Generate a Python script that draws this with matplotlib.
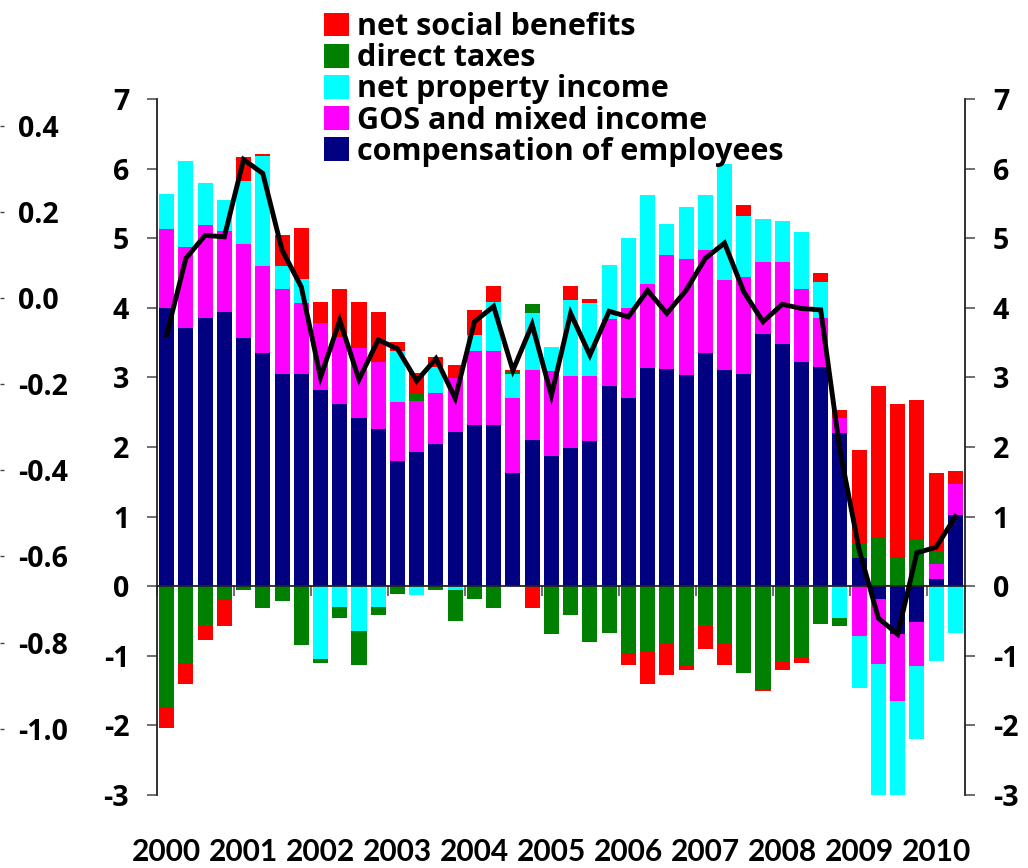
import matplotlib

matplotlib.use("Agg")
import matplotlib.pyplot as plt
import matplotlib.transforms as mtransforms
from matplotlib.patches import Patch
import numpy as np

plt.rcParams["font.family"] = ["Open Sans", "Lato", "DejaVu Sans"]
plt.rcParams["font.weight"] = "bold"
plt.rcParams["font.size"] = 20.5
plt.rcParams["axes.unicode_minus"] = False

# --- Data: quarterly contributions, 2000Q1 - 2010Q2 ---
years = ["2000", "2001", "2002", "2003", "2004", "2005",
         "2006", "2007", "2008", "2009", "2010"]

compensation = [3.99, 3.71, 3.86, 3.94, 3.56, 3.35, 3.05, 3.05, 2.82, 2.62, 2.41, 2.26,
                1.80, 1.93, 2.05, 2.21, 2.31, 2.31, 1.62, 2.10, 1.87, 1.98, 2.08, 2.87,
                2.71, 3.13, 3.12, 3.03, 3.35, 3.10, 3.05, 3.63, 3.48, 3.22, 3.15, 2.20,
                0.40, -0.18, -0.68, -0.52, 0.11, 1.03]
gos_mixed = [1.14, 1.16, 1.33, 1.16, 1.35, 1.25, 1.22, 1.02, 0.96, 0.96, 1.01, 0.96,
             0.84, 0.73, 0.72, 0.78, 1.07, 1.07, 1.09, 1.00, 1.22, 1.04, 0.94, 0.97,
             1.28, 1.21, 1.64, 1.67, 1.48, 1.30, 1.39, 1.03, 1.18, 1.05, 0.71, 0.21,
             -0.71, -0.94, -0.97, -0.62, 0.21, 0.44]
property_income = [0.51, 1.24, 0.61, 0.45, 0.91, 1.58, 0.33, 0.35, -1.04, -0.30, -0.64, -0.30,
                   0.74, -0.12, 0.38, -0.06, 0.23, 0.71, 0.34, 0.82, 0.34, 1.09, 1.05, 0.77,
                   1.02, 1.28, 0.44, 0.75, 0.79, 1.66, 0.88, 0.61, 0.58, 0.82, 0.51, -0.46,
                   -0.75, -2.21, -1.66, -1.05, -1.07, -0.67]
direct_taxes = [-1.75, -1.12, -0.56, -0.19, -0.05, -0.31, -0.21, -0.84, -0.06, -0.16, -0.49, -0.11,
                -0.11, 0.10, -0.05, -0.44, -0.18, -0.31, 0.03, 0.13, -0.69, -0.41, -0.80, -0.67,
                -0.97, -0.93, -0.83, -1.14, -0.56, -0.82, -1.25, -1.48, -1.07, -1.02, -0.54, -0.11,
                0.21, 0.70, 0.42, 0.67, 0.18, 0.00]
social_benefits = [-0.29, -0.28, -0.21, -0.38, 0.34, 0.03, 0.44, 0.72, 0.31, 0.69, 0.67, 0.72,
                   0.13, 0.31, 0.15, 0.19, 0.36, 0.23, 0.03, -0.31, 0.00, 0.21, 0.05, 0.00,
                   -0.16, -0.47, -0.44, -0.06, -0.34, -0.31, 0.15, -0.02, -0.13, -0.08, 0.13, 0.12,
                   1.34, 2.17, 2.20, 2.00, 1.12, 0.18]
total = [3.61, 4.71, 5.04, 5.02, 6.13, 5.93, 4.83, 4.30, 3.00, 3.82, 2.97, 3.54,
         3.41, 2.95, 3.27, 2.70, 3.80, 4.02, 3.10, 3.76, 2.74, 3.92, 3.32, 3.95,
         3.87, 4.25, 3.92, 4.25, 4.71, 4.93, 4.23, 3.80, 4.05, 3.99, 3.97, 1.95,
         0.52, -0.46, -0.69, 0.48, 0.56, 1.00]

right_ticks = [7, 6, 5, 4, 3, 2, 1, 0, -1, -2, -3]
left_ticks = [0.4, 0.2, 0.0, -0.2, -0.4, -0.6, -0.8, -1.0]

series = [
    ("compensation of employees", compensation, "#000080"),
    ("GOS and mixed income", gos_mixed, "#ff00ff"),
    ("net property income", property_income, "#00ffff"),
    ("direct taxes", direct_taxes, "#008000"),
    ("net social benefits", social_benefits, "#ff0000"),
]

fig = plt.figure(figsize=(10.28, 8.68), dpi=100)
ax = fig.add_axes([157 / 1028, 1 - 795 / 868, (965 - 157) / 1028, (795 - 99) / 868])

x = np.arange(len(total))
pos_bottom = np.zeros(len(x))
neg_bottom = np.zeros(len(x))
for name, vals, color in series:
    v = np.array(vals)
    bottom = np.where(v >= 0, pos_bottom, neg_bottom)
    ax.bar(x, v, width=0.78, bottom=bottom, color=color, linewidth=0, zorder=2)
    pos_bottom += np.clip(v, 0, None)
    neg_bottom += np.clip(v, None, 0)

ax.plot(x, total, color="black", lw=3.5, zorder=4, solid_joinstyle="miter")

ax.set_xlim(-0.5, len(x) - 0.5)
ax.set_ylim(-3, 7)
ax.set_xticks(np.arange(-0.5, len(x), 4))
ax.set_xticklabels([])
ax.tick_params(axis="x", direction="out", length=7, width=1.2, color="#555555")

ax.spines["top"].set_visible(False)
ax.spines["bottom"].set_position(("data", 0))
ax.spines["bottom"].set_zorder(3)
for side in ("left", "right", "bottom"):
    ax.spines[side].set_linewidth(1.3)
    ax.spines[side].set_color("#222222")

# year labels under the plot, at first quarter of each year
trans = mtransforms.blended_transform_factory(ax.transData, ax.transAxes)
for i, yr in enumerate(years):
    ax.text(4 * i, -0.082, yr, transform=trans, ha="center", va="center",
            fontsize=21.5, fontweight="bold", family=["Lato", "DejaVu Sans"])

# secondary scale on the far left
ax3 = ax.twinx()
ax3.yaxis.set_ticks_position("left")
ax3.spines["left"].set_position(("outward", 113))
for side in ("left", "right", "top", "bottom"):
    ax3.spines[side].set_visible(False)
ax3.set_ylim(-1.154, 0.462)
ax3.set_yticks(left_ticks)
ax3.set_yticklabels([f"{t:.1f}" for t in left_ticks])
ax3.tick_params(axis="y", direction="in", length=3, width=1, color="#444444", pad=-13)
for lbl in ax3.get_yticklabels():
    lbl.set_horizontalalignment("left")

# main y scale on both sides (twinx resets the parent's tick side)
ax.yaxis.set_ticks_position("both")
ax.set_yticks(right_ticks)
ax.set_yticklabels([str(t) for t in right_ticks])
ax.tick_params(axis="y", left=True, right=True, labelleft=True, labelright=True,
               direction="out", length=7, width=1.2, color="#555555", pad=13)

handles = [Patch(facecolor=c, edgecolor="none") for _, _, c in reversed(series)]
labels = [n for n, _, _ in reversed(series)]
ax.legend(handles, labels, loc="upper left", bbox_to_anchor=(324 / 1028, 1 - 12 / 868),
          bbox_transform=fig.transFigure, frameon=False, fontsize=22,
          handlelength=0.82, handleheight=0.82, handletextpad=0.26,
          labelspacing=0.04, borderpad=0, borderaxespad=0)

fig.savefig("out.png", dpi=100)
